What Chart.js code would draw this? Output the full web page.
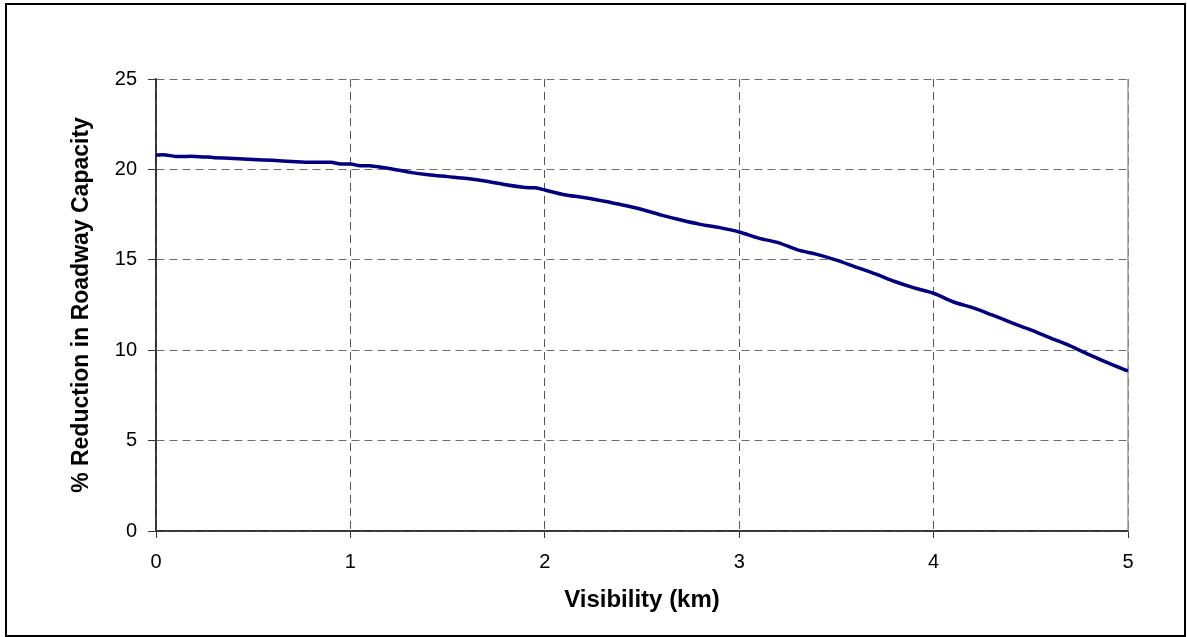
<!DOCTYPE html>
<html>
<head>
<meta charset="utf-8">
<script src="https://cdn.jsdelivr.net/npm/chart.js@4.4.1/dist/chart.umd.min.js"></script>
<style>
  body { margin: 0; background: #ffffff; }
  #frame { position: absolute; left: 5px; top: 3px; width: 1177px; height: 630px; border: 2px solid #000000; }
  #wrap { position: absolute; left: 0; top: 0; width: 1187px; height: 637px; }
</style>
</head>
<body>
  <div id="frame"></div>
  <div id="wrap"><canvas id="chart_capacity"></canvas></div>

  <script>
// visibility (km) against % reduction in roadway capacity
const visibility_km = [0, 0.05, 0.1, 0.2, 0.3, 0.4, 0.5, 0.6, 0.7, 0.8, 0.9, 0.95,
  1.0, 1.05, 1.1, 1.2, 1.3, 1.4, 1.5, 1.6, 1.7, 1.8, 1.9, 1.95,
  2.0, 2.1, 2.2, 2.3, 2.4, 2.5, 2.6, 2.7, 2.8, 2.9,
  3.0, 3.1, 3.2, 3.3, 3.4, 3.5, 3.6, 3.7, 3.8, 3.9,
  4.0, 4.1, 4.2, 4.3, 4.4, 4.5, 4.6, 4.7, 4.8, 4.9, 5.0];
const reduction_pct = [20.8, 20.8, 20.72, 20.72, 20.65, 20.6, 20.55, 20.5, 20.44, 20.39, 20.39, 20.3,
  20.3, 20.2, 20.2, 20.05, 19.85, 19.7, 19.6, 19.5, 19.35, 19.15, 19.0, 18.98,
  18.86, 18.6, 18.45, 18.25, 18.03, 17.78, 17.47, 17.2, 16.96, 16.78,
  16.54, 16.2, 15.95, 15.55, 15.3, 14.98, 14.6, 14.22, 13.8, 13.45,
  13.15, 12.68, 12.35, 11.95, 11.53, 11.12, 10.68, 10.25, 9.75, 9.28, 8.85];

const x_min = 0, x_max = 5, x_step = 1;
const y_min = 0, y_max = 25, y_step = 5;

const x_title = 'Visibility (km)';
const y_title = '% Reduction in Roadway Capacity';

const points = [];
for ( var i = 0; i < visibility_km.length; i++ ) {
  points.push({ x: visibility_km[i], y: reduction_pct[i] });
}

// solid axis lines on the left and bottom, grey edge on the right
const plotEdge = {
  id: 'plotEdge',
  beforeDatasetsDraw(chart) {
    const a = chart.chartArea;
    const c = chart.ctx;
    c.save();
    c.strokeStyle = '#9a9a9a';
    c.lineWidth = 1.5;
    c.beginPath();
    c.moveTo(a.right, a.top);
    c.lineTo(a.right, a.bottom);
    c.stroke();
    c.strokeStyle = '#333333';
    c.lineWidth = 1.5;
    c.beginPath();
    c.moveTo(a.left, a.top);
    c.lineTo(a.left, a.bottom);
    c.lineTo(a.right, a.bottom);
    c.stroke();
    c.restore();
  }
};

Chart.defaults.font.family = '"Liberation Sans", Arial, sans-serif';
Chart.defaults.color = '#000000';

const ctx_capacity = document.getElementById('chart_capacity');

const configCapacity = {
  type: 'line',
  data: {
    datasets: [{
      label: y_title,
      data: points,
      borderColor: '#000080',
      borderWidth: 3.5,
      pointRadius: 0,
      fill: false,
      tension: 0.3
    }]
  },
  options: {
    responsive: true,
    maintainAspectRatio: false,
    animation: false,
    layout: {
      padding: { left: 0, top: 79, right: 59, bottom: 0 }
    },
    plugins: {
      legend: { display: false },
      tooltip: { enabled: false }
    },
    scales: {
      x: {
        type: 'linear',
        min: x_min,
        max: x_max,
        afterFit: function (s) { s.height = 106; },
        ticks: { stepSize: x_step, font: { size: 20 }, padding: 12 },
        grid: { color: '#555555', lineWidth: 1, tickLength: 7, tickColor: '#333333' },
        border: { color: '#333333', width: 1.5, dash: [8, 5] },
        title: { display: true, text: x_title, font: { size: 24, weight: 'bold' }, padding: { top: 0, bottom: 22 } }
      },
      y: {
        type: 'linear',
        min: y_min,
        max: y_max,
        afterFit: function (s) { s.width = 156; },
        ticks: { stepSize: y_step, font: { size: 20 }, padding: 11 },
        grid: { color: '#6e6e6e', lineWidth: 1, tickLength: 8, tickColor: '#333333' },
        border: { color: '#333333', width: 1.5, dash: [8, 5] },
        title: { display: true, text: y_title, font: { size: 23, weight: 'bold' }, padding: { top: 68, bottom: 0 } }
      }
    }
  },
  plugins: [plotEdge]
};

const chartCapacity = new Chart(ctx_capacity, configCapacity);
  </script>
</body>
</html>
